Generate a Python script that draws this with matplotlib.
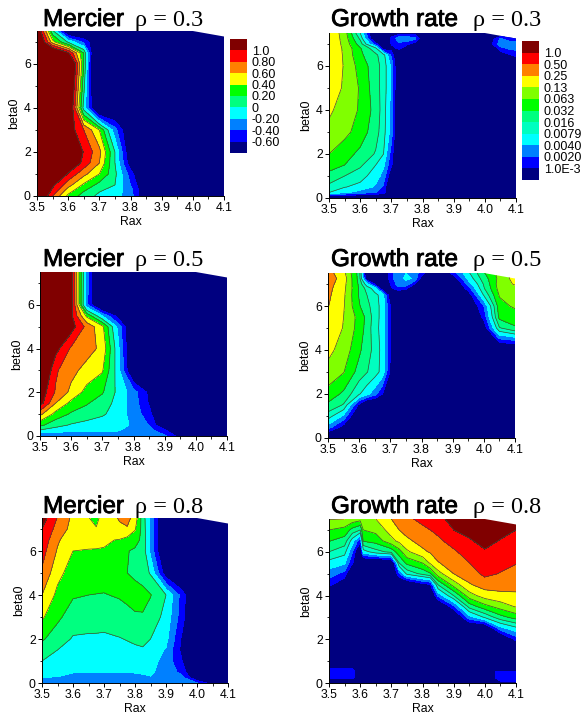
import matplotlib
matplotlib.use('Agg')
import numpy as np
import matplotlib.pyplot as plt
import matplotlib.patheffects as pe
from matplotlib.patches import Polygon
from matplotlib.ticker import MultipleLocator

plt.rcParams['font.family'] = ['Liberation Sans', 'DejaVu Sans']

W, H = 582, 716

# Mercier panels: value on the grid (rows = beta0, columns = Rax)
rax_m3 = [3.5, 3.55, 3.6, 3.65, 3.7, 3.75, 3.8, 3.85, 4.1]
beta_m3 = [0, .25, .5, 1, 1.5, 2, 3, 4, 5, 6, 6.5, 7, 7.5]
mercier_03 = [
    [1.4, .8, .35, .11, -.05, -.14, -.3, -.9, -1],
    [1.5, .95, .5, .22, .02, -.07, -.32, -.85, -1],
    [1.6, 1.05, .68, .36, .13, 0, -.4, -.9, -1],
    [2, 1.5, .97, .66, .4, .05, -.5, -1, -1],
    [2.2, 1.8, 1.3, .93, .6, 0, -.75, -1, -1],
    [2.2, 1.9, 1.5, .98, .66, 0, -.85, -1, -1],
    [2, 1.6, 1.15, .8, .4, -.32, -.9, -1, -1],
    [2, 1.8, 1.46, -.08, -1.1, -1, -1, -1, -1],
    [2, 1.8, 1.6, .07, -1.5, -1, -1, -1, -1],
    [2, 1.9, 1.75, .2, -1.6, -1, -1, -1, -1],
    [2, 1.5, 1.05, .2, -1.5, -1, -1, -1, -1],
    [1.5, .48, -.03, -.45, -.9, -1, -1, -1, -1],
    [1.3, .05, -1, -1, -1, -1, -1, -1, -1],
]

rax_m5 = [3.5, 3.55, 3.6, 3.65, 3.7, 3.75, 3.8, 3.85, 3.9, 3.95, 4.1]
beta_m5 = [0, .25, .5, 1, 1.5, 2, 3, 4, 5, 5.5, 6, 7.5]
mercier_05 = [
    [-.45, -.42, -.38, -.3, -.3, -.3, -.3, -.3, -.36, -.7, -1],
    [-.03, -.1, -.15, -.17, -.19, -.19, -.26, -.33, -.55, -1, -1],
    [.25, .07, -.02, -.07, -.12, -.15, -.22, -.41, -.85, -1, -1],
    [.65, .33, .17, .1, .03, -.1, -.28, -.52, -1, -1, -1],
    [1.1, .6, .34, .22, .09, -.06, -.3, -.62, -1, -1, -1],
    [1.15, .78, .55, .33, .22, -.05, -.31, -.65, -1, -1, -1],
    [1.4, .83, .66, .53, .42, -.1, -.95, -1, -1, -1, -1],
    [1.5, 1.08, .77, .68, .55, -.13, -1, -1, -1, -1, -1],
    [2, 1.6, 1.1, .74, .45, -.25, -1, -1, -1, -1, -1],
    [2, 1.7, 1.05, .35, -.2, -.7, -1, -1, -1, -1, -1],
    [2, 1.9, 1.15, -.35, -1.1, -1, -1, -1, -1, -1, -1],
    [2, 1.9, 1.1, -.3, -1.2, -1, -1, -1, -1, -1, -1],
]

rax_m8 = [3.5, 3.55, 3.6, 3.65, 3.675, 3.7, 3.75, 3.775, 3.8, 3.825, 3.85, 3.9, 3.95, 4.0, 4.05, 4.1]
beta_m8 = [0, .25, .5, 1, 1.5, 2, 3, 4, 5, 6, 6.5, 7, 7.5]
mercier_08 = [
    [-.28, -.28, -.28, -.28, -.28, -.28, -.28, -.28, -.28, -.28, -.28, -.3, -.34, -.38, -.75, -1],
    [-.2, -.21, -.25, -.25, -.25, -.25, -.25, -.25, -.24, -.23, -.21, -.25, -.33, -.85, -1, -1],
    [-.12, -.14, -.19, -.19, -.19, -.195, -.2, -.195, -.19, -.18, -.17, -.28, -.45, -1, -1, -1],
    [0, -.08, -.13, -.14, -.145, -.145, -.14, -.13, -.115, -.09, -.12, -.28, -.58, -1, -1, -1],
    [.11, 0, -.08, -.085, -.09, -.09, -.07, -.05, -.03, -.02, -.06, -.22, -.65, -1, -1, -1],
    [.225, .1, -.02, -.03, -.03, -.035, -.01, .01, .03, .05, 0, -.14, -.62, -1, -1, -1],
    [.43, .24, .105, .09, .085, .08, .11, .15, .18, .18, .117, -.065, -.5, -1, -1, -1],
    [.6, .35, .22, .2, .195, .19, .22, .24, .26, .27, .21, 0, -.47, -1, -1, -1],
    [.77, .46, .31, .3, .295, .29, .24, .2, .17, .1, -.02, -.75, -1, -1, -1, -1],
    [.88, .58, .4, .39, .39, .39, .27, .21, .17, .12, -.25, -1, -1, -1, -1, -1],
    [.94, .63, .45, .45, .44, .42, .39, .33, .27, .15, -.25, -1, -1, -1, -1, -1],
    [1, .72, .53, .44, .41, .5, .56, .58, .42, .12, -.25, -1, -1, -1, -1, -1],
    [1.1, .79, .55, .405, .36, .47, .62, .66, .52, .1, -.25, -1, -1, -1, -1, -1],
]

# Growth rate panels: log2(rate / 1e-3), so that 0 is 1.0E-3 and 10 is 1.0
rax_g3 = [3.5, 3.55, 3.6, 3.65, 3.675, 3.7, 3.725, 3.75, 3.775, 3.8, 4.0, 4.025, 4.05, 4.075, 4.1]
beta_g3 = [0, .25, .5, 1, 1.5, 2, 3, 4, 5, 6, 6.5, 6.8, 7, 7.25, 7.5]
growth_03 = [
    [-2, -2, -2, -2, -2, -2, -2, -2, -2, -2, -2, -2, -2, -2, -2],
    [3, 2.2, 1.5, 1, .5, -2, -2, -2, -2, -2, -2, -2, -2, -2, -2],
    [3.7, 3.05, 2.7, 1.8, .8, -2, -2, -2, -2, -2, -2, -2, -2, -2, -2],
    [4.7, 4, 3.4, 2.5, 1.6, -1, -2, -2, -2, -2, -2, -2, -2, -2, -2],
    [5.4, 5, 4.2, 3, 2.2, .2, -2, -2, -2, -2, -2, -2, -2, -2, -2],
    [6, 5.4, 4.75, 3.9, 3, .5, -2, -2, -2, -2, -2, -2, -2, -2, -2],
    [6.7, 6.3, 5.55, 4.4, 3.4, 1.5, -2, -2, -2, -2, -2, -2, -2, -2, -2],
    [7.2, 6.5, 5.9, 4.6, 3.5, 1.6, -2, -2, -2, -2, -2, -2, -2, -2, -2],
    [7.8, 6.8, 5.9, 4.4, 3.6, 1.8, -2, -2, -2, -2, -2, -2, -2, -2, -2],
    [7.9, 6.9, 5.6, 4.4, 3.6, 1.8, -2, -2, -2, -2, -2, -2, -2, -2, -2],
    [7.9, 6.85, 5.2, 4.2, 3.4, .8, -2, -2, -2, -2, -2, -2, -.8, -.2, .3],
    [7.9, 6.8, 5.1, 3.3, -.8, -.5, .3, -1, -2, -2, -2, -1, .6, 1.1, 1.3],
    [7.9, 6.7, 4.5, .5, -2, .1, .7, .3, -.5, -2, -1.5, 0, 1.6, 1.6, 1.6],
    [7.9, 6.6, 3.8, -2, -2, .2, 1.7, 1.8, 1.3, -1, -1, -.3, 1.05, .5, 0],
    [7.9, 6.5, 3, -2, -2, -.5, -.5, -.5, -.5, -2, -2, -2, -2, -2, -2],
]

rax_g5 = [3.5, 3.55, 3.6, 3.625, 3.65, 3.675, 3.7, 3.725, 3.75, 3.775, 3.8, 3.85, 3.9, 3.95, 4.0, 4.05, 4.1]
beta_g5 = [0, .25, .5, 1, 1.5, 2, 3, 4, 5, 5.5, 6, 6.5, 6.8, 7, 7.25, 7.5]
growth_05 = [
    [-2, -2, -2, -2, -2, -2, -2, -2, -2, -2, -2, -2, -2, -2, -2, -2, -2],
    [-.3, -1.5, -2, -2, -2, -2, -2, -2, -2, -2, -2, -2, -2, -2, -2, -2, -2],
    [1.6, -.5, -2, -2, -2, -2, -2, -2, -2, -2, -2, -2, -2, -2, -2, -2, -2],
    [3.5, 1.8, -2, -2, -2, -2, -2, -2, -2, -2, -2, -2, -2, -2, -2, -2, -2],
    [4.8, 3.9, -.3, -2, -2, -2, -2, -2, -2, -2, -2, -2, -2, -2, -2, -2, -2],
    [5.6, 4.8, 3.1, 2.3, 1.4, 0, -2, -2, -2, -2, -2, -2, -2, -2, -2, -2, -2],
    [6.7, 6.05, 4.6, 4.05, 3.5, 2.6, -.2, -2, -2, -2, -2, -2, -2, -2, -2, -2, -2],
    [7.26, 6.6, 5.2, 4.4, 3.7, 2.6, 0, -2, -2, -2, -2, -2, -2, -2, -2, -2, -2],
    [7.65, 6.95, 5.6, 4.6, 3.4, 2.6, 0, -2, -2, -2, -2, -2, -2, -2, -.8, 3.9, 4.9],
    [7.8, 7, 5.65, 4.7, 3.5, 2.6, 0, -2, -2, -2, -2, -2, -2, -2, .3, 5.3, 5.4],
    [8.05, 7.1, 5.1, 4.3, 3.5, 2.6, 0, -2, -2, -2, -2, -2, -2, -1.5, 1, 5.6, 6.2],
    [8.2, 7.2, 4.9, 4, 3.3, 2.6, -1, -2, -2, -2, -2, -2, -2, -.8, 3.1, 6.1, 6.6],
    [8.3, 7.3, 4.9, 3.6, 2.5, -1, -.3, .8, .3, -2, -2, -2, -2, .5, 3.9, 6.4, 6.7],
    [8.4, 7.4, 4.8, 2.3, -.2, -2, 0, 1.4, 1.6, .3, -2, -2, -2, 1.4, 4.1, 6.5, 7.1],
    [8.5, 7.6, 4.6, -1, -2, -2, .6, 1.6, 2.2, 1.9, -.5, -2, -1, 2.3, 4.5, 6.3, 7.4],
    [8.4, 7.3, 4.6, -2, -2, -2, .6, 1.6, 2, 1.7, .5, -2, .4, 2.8, 4.9, 6.4, 7.4],
]

rax_g8 = [3.5, 3.55, 3.575, 3.6, 3.61, 3.65, 3.7, 3.725, 3.75, 3.8, 3.825, 3.85, 3.9, 3.95, 4.0, 4.05, 4.1]
beta_g8 = [0, .1, .25, .5, .7, 1.5, 2, 2.5, 3, 3.5, 4, 4.5, 5, 5.5, 6, 6.5, 7, 7.5]
growth_08 = [
    [-2, -2, -2, -2, -2, -2, -2, -2, -2, -2, -2, -2, -2, -2, -2, -2, -2],
    [-1, -1, -1, -2, -2, -2, -2, -2, -2, -2, -2, -2, -2, -2, -2, .2, .2],
    [.5, .5, .5, -1, -2, -2, -2, -2, -2, -2, -2, -2, -2, -2, -1, .5, .5],
    [.5, .5, .5, -1, -2, -2, -2, -2, -2, -2, -2, -2, -2, -2, -1, .5, .5],
    [-.2, -.2, -.2, -2, -2, -2, -2, -2, -2, -2, -2, -2, -2, -2, -2, -2, -2],
    [-2, -2, -2, -2, -2, -2, -2, -2, -2, -2, -2, -2, -2, -2, -2, -2, -2],
    [-2, -2, -2, -2, -2, -2, -2, -2, -2, -2, -2, -2, -2, -2, -2, -2, .35],
    [-2, -2, -2, -2, -2, -2, -2, -2, -2, -2, -2, -2, -2, -2, -2, 1.6, 2.7],
    [-2, -2, -2, -2, -2, -2, -2, -2, -2, -2, -2, -2, -2, 1.5, 3.1, 4.6, 5.4],
    [-2, -2, -2, -2, -2, -2, -2, -2, -2, -2, -2, -2, .7, 4.4, 5.65, 6.45, 7.1],
    [-2, -2, -2, -2, -2, -2, -2, -2, -2, -2, -2, 1.3, 4, 6.55, 7.5, 7.75, 7.85],
    [.3, -1, -2, -2, -2, -2, -2, -2, -2, -.5, -.1, 4.05, 6.45, 7.9, 8.45, 8.4, 8.3],
    [1.5, .65, -2, -2, -2, -2, -2, .8, 3.3, 4.3, 4.9, 6.6, 8, 8.5, 9.25, 8.95, 8.7],
    [2.65, 2.2, .15, -2, -2, -2, -2, 4.05, 5.3, 6.05, 7.2, 7.95, 8.4, 9, 9.5, 9.3, 9.05],
    [4, 3.35, 1.1, -2, 2.5, 3.6, 4.3, 5.55, 6.8, 7.8, 8.1, 8.4, 8.85, 9.45, 9.9, 9.6, 9.4],
    [5.05, 4.55, 2.5, .2, 5.1, 5.4, 6.7, 7.25, 7.8, 8.35, 8.55, 8.8, 9.4, 9.9, 10.3, 9.95, 9.7],
    [6, 5.65, 4.65, 4, 6, 6.3, 7.45, 8, 8.35, 8.8, 9, 9.25, 10, 10.3, 10.7, 10.3, 10],
    [7.05, 7, 6.65, 6.4, 6.5, 7, 8, 8.4, 8.8, 9.25, 9.4, 9.6, 10.5, 10.7, 11, 10.6, 10.4],
]

mercier_levels = [-3, -.6, -.4, -.2, 0, .2, .4, .6, .8, 1.0, 3]
mercier_ticks = ['-0.60', '-0.40', '-0.20', '0', '0.20', '0.40', '0.60', '0.80', '1.0']
mercier_colors = ['#000080', '#0000ff', '#0080ff', '#00ffff', '#00ff80', '#00ff00',
                  '#ffff00', '#ff8000', '#ff0000', '#800000']

growth_levels = [-3, 0, 1, 2, 3, 4, 5, 6, 7, 8, 9, 10, 12]
growth_ticks = ['1.0E-3', '0.0020', '0.0040', '0.0079', '0.016', '0.032', '0.063', '0.13',
                '0.25', '0.50', '1.0']
growth_colors = ['#000080', '#0000ff', '#0080ff', '#00ffff', '#00ffc0', '#00ff80', '#00ff00',
                 '#80ff00', '#ffff00', '#ff8000', '#ff0000', '#800000']

# outline of the computed region, the top right corner is cut off
region_rax = [3.5, 4.1, 4.1, 4.0, 3.5]
region_beta = [0, 0, 7.25, 7.5, 7.5]


def px_axes(fig, x0, x1, ytop, ybottom):
    return fig.add_axes([x0 / W, 1 - ybottom / H, (x1 - x0) / W, (ybottom - ytop) / H])


def panel(fig, box, rax, beta, z, levels, colors, word, rho, title_x, title_y, rho_x):
    ax = px_axes(fig, *box)
    cs = ax.contourf(rax, beta, z, levels=levels, colors=colors)
    lines = ax.contour(rax, beta, z, levels=levels[4:-1], colors='#3c4a3c', linewidths=0.5)
    clip = Polygon(np.column_stack([region_rax, region_beta]), transform=ax.transData,
                   fc='none', ec='none')
    ax.add_patch(clip)
    cs.set_clip_path(clip)
    lines.set_clip_path(clip)
    ax.set_xlim(3.5, 4.1)
    ax.set_ylim(0, 7.5)
    ax.set_xticks([3.5, 3.6, 3.7, 3.8, 3.9, 4.0, 4.1])
    ax.set_yticks([0, 2, 4, 6])
    ax.xaxis.set_minor_locator(MultipleLocator(0.05))
    ax.yaxis.set_minor_locator(MultipleLocator(1))
    ax.tick_params(which='major', length=3, width=0.7, pad=1.5, labelsize=8.8)
    ax.tick_params(which='minor', length=1.8, width=0.6)
    ax.spines['top'].set_visible(False)
    ax.spines['right'].set_visible(False)
    ax.spines['left'].set_linewidth(0.7)
    ax.spines['bottom'].set_linewidth(0.7)
    ax.set_xlabel('Rax', fontsize=8.8, labelpad=1.5)
    ax.set_ylabel('beta0', fontsize=9, labelpad=2.5)
    fig.text(title_x / W, 1 - title_y / H, word, fontsize=17.5, va='baseline', color='black',
             path_effects=[pe.withStroke(linewidth=0.6, foreground='black')])
    fig.text(rho_x / W, 1 - title_y / H, 'ρ = ' + rho, fontsize=17.5, va='baseline', color='black',
             family=['Liberation Serif', 'DejaVu Serif'])
    return cs


def bar(fig, cs, box, ticks, labels):
    cax = px_axes(fig, *box)
    cb = fig.colorbar(cs, cax=cax, ticks=ticks)
    cb.ax.set_yticklabels(labels)
    cb.ax.tick_params(length=0, pad=3.5, labelsize=9)
    cb.ax.minorticks_off()
    cb.outline.set_visible(False)


fig = plt.figure(figsize=(W / 100, H / 100), dpi=100)

cs = panel(fig, (37, 224, 31, 196), rax_m3, beta_m3, mercier_03, mercier_levels, mercier_colors,
           'Mercier', '0.3', 43, 26, 135)
bar(fig, cs, (230, 247, 39, 153), mercier_levels[1:-1], mercier_ticks)

cs = panel(fig, (329, 516, 33, 198), rax_g3, beta_g3, growth_03, growth_levels, growth_colors,
           'Growth rate', '0.3', 331, 26, 473)
bar(fig, cs, (522, 539, 41, 180), growth_levels[1:-1], growth_ticks)

panel(fig, (40, 227, 272, 436), rax_m5, beta_m5, mercier_05, mercier_levels, mercier_colors,
      'Mercier', '0.5', 43, 266, 135)
panel(fig, (328, 515, 273, 438), rax_g5, beta_g5, growth_05, growth_levels, growth_colors,
      'Growth rate', '0.5', 331, 266, 473)
panel(fig, (42, 228, 518, 683), rax_m8, beta_m8, mercier_08, mercier_levels, mercier_colors,
      'Mercier', '0.8', 43, 513, 135)
panel(fig, (329, 516, 519, 683), rax_g8, beta_g8, growth_08, growth_levels, growth_colors,
      'Growth rate', '0.8', 331, 513, 473)

fig.savefig('out.png', dpi=100)
